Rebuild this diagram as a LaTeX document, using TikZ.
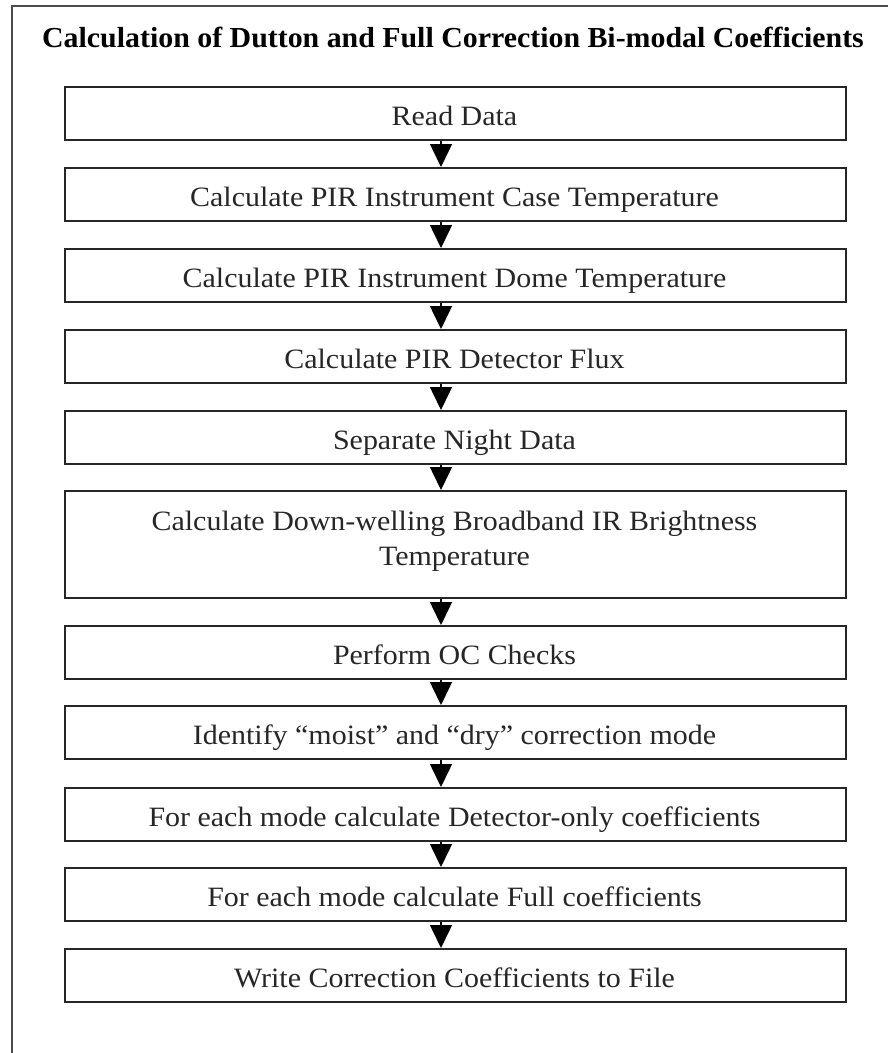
\documentclass[tikz,border=0pt]{standalone}
\usepackage{fontspec}
\setmainfont{Liberation Serif}
\newfontfamily\boxfont{Liberation Serif}[FakeStretch=1.07]
\newfontfamily\headfont{Liberation Serif}[FakeStretch=1.03]
\usetikzlibrary{arrows.meta}
\begin{document}
\begin{tikzpicture}[x=1pt,y=-1pt,
  stepbox/.style={draw=black!85, line width=2pt, minimum width=781pt, minimum height=53pt, inner sep=0pt, anchor=north west},
  tallbox/.style={stepbox, minimum height=107pt},
  steptext/.style={font=\boxfont\fontsize{28}{35}\selectfont, text=black!85, align=center, anchor=base, inner sep=0pt},
  titletext/.style={font=\headfont\bfseries\fontsize{29}{35}\selectfont, anchor=base, inner sep=0pt},
  flow/.style={line width=1.5pt, -{Triangle[width=22pt,length=23pt]}},
  frame/.style={draw=black!70, line width=2pt}
  ]
\useasboundingbox (0,0) rectangle (888,1053);
\clip (0,0) rectangle (888,1053);
\draw[frame] (12,1060) -- (12,6) -- (900,6);
\node[titletext] (title) at (453,47) {Calculation of Dutton and Full Correction Bi-modal Coefficients};
\coordinate (ax) at (441,0);
\node[stepbox] (b1) at (64,86) {};
\node[stepbox] (b2) at (64,167) {};
\node[stepbox] (b3) at (64,248) {};
\node[stepbox] (b4) at (64,329) {};
\node[stepbox] (b5) at (64,410) {};
\node[tallbox] (b6) at (64,490) {};
\node[stepbox] (b7) at (64,625) {};
\node[stepbox] (b8) at (64,705) {};
\node[stepbox] (b9) at (64,787) {};
\node[stepbox] (b10) at (64,867) {};
\node[stepbox] (b11) at (64,948) {};
\node[steptext] (t1) at (454.5,125.5) {Read Data};
\node[steptext] (t2) at (454.5,206.5) {Calculate PIR Instrument Case Temperature};
\node[steptext] (t3) at (454.5,287.5) {Calculate PIR Instrument Dome Temperature};
\node[steptext] (t4) at (454.5,368.5) {Calculate PIR Detector Flux};
\node[steptext] (t5) at (454.5,449.5) {Separate Night Data};
\node[steptext, anchor=north] (t6) at (454.5,511) {Calculate Down-welling Broadband IR Brightness\\Temperature};
\node[steptext] (t7) at (454.5,664.5) {Perform OC Checks};
\node[steptext] (t8) at (454.5,744.5) {Identify “moist” and “dry” correction mode};
\node[steptext] (t9) at (454.5,826.5) {For each mode calculate Detector-only coefficients};
\node[steptext] (t10) at (454.5,906.5) {For each mode calculate Full coefficients};
\node[steptext] (t11) at (454.5,987.5) {Write Correction Coefficients to File};
\foreach \i/\j in {b1/b2,b2/b3,b3/b4,b4/b5,b5/b6,b6/b7,b7/b8,b8/b9,b9/b10,b10/b11}
  \draw[flow] (\i.south -| ax) -- (\j.north -| ax);
\end{tikzpicture}
\end{document}
